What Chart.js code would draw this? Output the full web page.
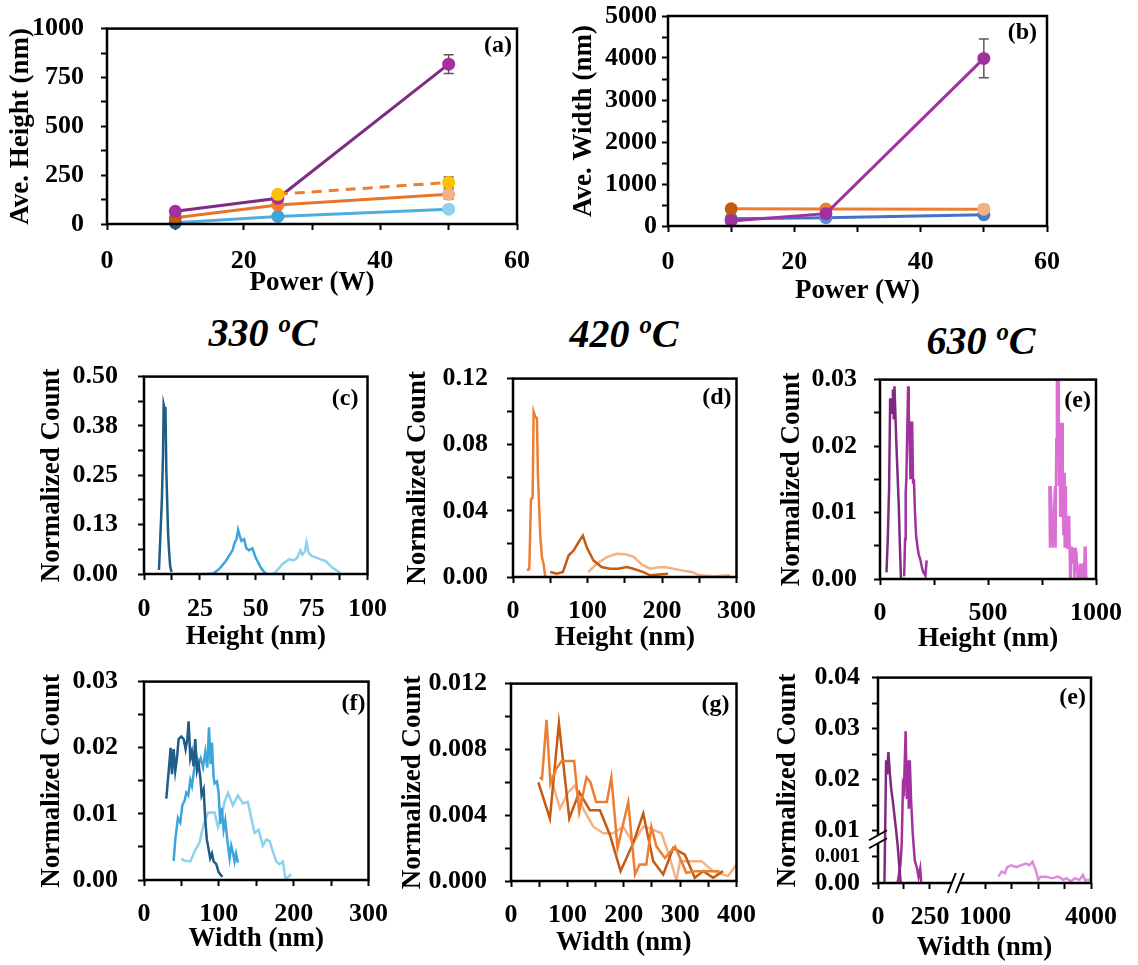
<!DOCTYPE html>
<html>
<head>
<meta charset="utf-8">
<title>Height and width distributions</title>
<script src="https://cdn.jsdelivr.net/npm/chart.js@4.4.1/dist/chart.umd.min.js"></script>
<style>
  body { margin: 0; background: #fff; }
  #fig { position: relative; width: 1138px; height: 965px; overflow: hidden; background: #fff; }
  #fig canvas { position: absolute; }
  .temp {
    position: absolute; transform: translate(-50%, -50%); white-space: nowrap;
    font: italic bold 40px "Liberation Serif", "Times New Roman", serif; color: #000;
  }
  .temp span { position: relative; top: -0.55em; font-size: 0.62em; }
</style>
</head>
<body>
<div id="fig">
  <div class="temp" style="left:263px; top:332px">330 <span>o</span>C</div>
  <div class="temp" style="left:624px; top:333px">420 <span>o</span>C</div>
  <div class="temp" style="left:981px; top:340px">630 <span>o</span>C</div>
</div>
<script>
// averages vs. plasma power
const power = [10, 25, 50];
const powerDash = [25, 50];

const aveHeight330 = [6, 39, 76];
const errHeight330 = [2, 6, 10];
const aveHeight420 = [32, 97, 152];
const errHeight420 = [5, 10, 24];
const aveHeight630 = [65, 132, 818];
const errHeight630 = [6, 12, 48];
const aveHeightDash = [152, 213];
const errHeightDash = [10, 28];

const aveWidth330 = [175, 199, 270];
const errWidth330 = [20, 25, 60];
const aveWidth420 = [410, 405, 400];
const errWidth420 = [30, 40, 100];
const aveWidth630 = [119, 294, 3990];
const errWidth630 = [20, 40, 460];

// height histograms, 330 C
const h330a_x = [6.7, 8.0, 8.5, 8.8, 9.2, 9.6, 10.0, 10.4, 10.8, 11.2, 11.7, 12.3];
const h330a_y = [0.01, 0.19, 0.30, 0.43, 0.42, 0.42, 0.26, 0.18, 0.10, 0.06, 0.02, 0.005];
const h330b_x = [28, 31, 33.7, 36.6, 39.6, 40.6, 41.4, 42.1, 42.9, 43.6, 44.8, 45.8, 47, 48.5, 50, 52.2, 53.7, 55.2];
const h330b_y = [0, 0.001, 0.013, 0.033, 0.06, 0.08, 0.088, 0.112, 0.096, 0.084, 0.088, 0.065, 0.06, 0.065, 0.041, 0.017, 0.005, 0];
const h330c_x = [57.4, 58.9, 61.9, 64.8, 67, 68.5, 70, 70.8, 72, 72.7, 73.7, 75.2, 77.4, 78.9, 81.2, 84.1, 87.8];
const h330c_y = [0, 0.005, 0.025, 0.037, 0.035, 0.041, 0.06, 0.049, 0.057, 0.08, 0.053, 0.045, 0.041, 0.037, 0.033, 0.017, 0.003];

// height histograms, 420 C
const h420a_x = [18.8, 21.9, 24.1, 26.3, 27.7, 29.9, 32.1, 33.5, 36.6, 38.8, 41, 43.3];
const h420a_y = [0.004, 0.005, 0.047, 0.048, 0.1, 0.097, 0.096, 0.061, 0.025, 0.012, 0.008, 0];
const h420b_x = [50, 58.9, 67, 74.6, 81.3, 88, 93.8, 99, 108, 119, 130, 141, 152.7, 161.6, 175, 184, 208];
const h420b_y = [0.003, 0.002, 0.003, 0.013, 0.016, 0.021, 0.025, 0.018, 0.010, 0.006, 0.005, 0.005, 0.006, 0.005, 0.003, 0.001, 0.002];
const h420c_x = [101, 112.5, 125.9, 139, 150.4, 161.6, 172.8, 184, 192.9, 204, 215, 226, 240, 251, 269, 291];
const h420c_y = [0.003, 0.008, 0.012, 0.014, 0.0137, 0.0123, 0.0076, 0.005, 0.0057, 0.006, 0.005, 0.004, 0.003, 0.001, 0.0005, 0.001];

// height histograms, 630 C
const h630a_x = [30, 36, 42, 47, 52, 56, 60, 64, 67, 71, 75, 81, 87, 92, 97, 119];
const h630a_y = [0.001, 0.006, 0.0135, 0.027, 0.027, 0.025, 0.0285, 0.024, 0.029, 0.025, 0.021, 0.016, 0.011, 0.005, 0, 0];
const h630b_x = [112, 116, 119, 122, 126, 130, 133, 137, 141, 145, 149, 153, 157, 162, 167, 173, 179, 186, 194, 200, 204, 210, 216];
const h630b_y = [0.0004, 0.006, 0.013, 0.015, 0.022, 0.029, 0.025, 0.0213, 0.015, 0.0235, 0.0235, 0.0145, 0.015, 0.01, 0.0066, 0.005, 0.0037, 0.003, 0.0018, 0.001, 0.0009, 0.0005, 0.0028];
const h630c_x = [784, 787, 790, 800, 810, 813, 816, 819, 822, 825, 828, 831, 834, 837, 840, 843, 846, 849, 852, 855, 858, 861, 864, 867, 870, 873, 876, 880, 884, 888, 892, 896, 900, 905, 910, 915, 920, 926, 932, 938, 944, 948, 952, 955];
const h630c_y = [0.014, 0.0047, 0.014, 0.0047, 0.014, 0.0047, 0.021, 0.03, 0.0235, 0.03, 0.014, 0.0235, 0.0095, 0.0235, 0.0095, 0.0235, 0.014, 0.0066, 0.016, 0.0047, 0.014, 0.0047, 0.0095, 0.0047, 0.009, 0.0047, 0.0095, 0, 0.0047, 0.0047, 0.0023, 0.0047, 0, 0.0047, 0.0037, 0, 0, 0.0023, 0, 0.0023, 0, 0.0047, 0.0047, 0];

// width histograms, 330 C
const w330a_x = [29.8, 33, 35.6, 37.4, 39.6, 41.8, 44, 46.3, 49.8, 53, 55.6, 57.9, 59.6, 61.9, 64, 66.3, 68.5, 70.8, 73, 75.2, 77, 79.7, 81.9, 84, 86.3, 88.5, 90.8, 93, 96.6, 99.7, 103, 105];
const w330a_y = [0.0123, 0.0165, 0.02, 0.016, 0.0198, 0.0165, 0.0184, 0.0213, 0.0217, 0.0213, 0.0198, 0.0213, 0.024, 0.0184, 0.0194, 0.0172, 0.0213, 0.0165, 0.0175, 0.0156, 0.0128, 0.0137, 0.009, 0.0061, 0.0047, 0.0033, 0.004, 0.0028, 0.0024, 0.0012, 0.0007, 0.0005];
const w330b_x = [39.6, 41.8, 45.4, 48.5, 51.2, 54.3, 56.5, 59.2, 61.9, 64.1, 66.8, 69.9, 73, 75.7, 78.8, 81.9, 84.6, 86.8, 89, 90.8, 93, 94.4, 97.5, 99.7, 101.9, 104, 106.4, 108.6, 111.3, 114.4, 116.6, 118.8, 121, 123, 125.5];
const w330b_y = [0.0029, 0.0061, 0.0094, 0.0087, 0.0113, 0.012, 0.0132, 0.0128, 0.0151, 0.0142, 0.0165, 0.0189, 0.0175, 0.0184, 0.017, 0.0194, 0.017, 0.0231, 0.0175, 0.0208, 0.0156, 0.0146, 0.0149, 0.0132, 0.0085, 0.0109, 0.0076, 0.009, 0.0061, 0.0033, 0.0052, 0.0042, 0.0028, 0.004, 0.0026];
const w330c_x = [49.8, 54.3, 61.9, 67.6, 74.3, 78.8, 85.4, 94.4, 98.8, 103, 107.7, 112.1, 118.8, 125.5, 132, 138.8, 143.3, 147.8, 153, 158.9, 163.3, 167.8, 172.2, 176.7, 181.1, 185.6, 189.1, 192.3, 196.7];
const w330c_y = [0.0032, 0.0029, 0.0028, 0.0043, 0.0057, 0.008, 0.0102, 0.0102, 0.008, 0.0094, 0.0118, 0.0132, 0.0113, 0.0128, 0.0116, 0.0118, 0.0094, 0.0071, 0.0076, 0.0052, 0.0061, 0.0059, 0.0043, 0.0028, 0.0024, 0.0028, 0.0002, 0.0004, 0.0009];

// width histograms, 420 C
const w420a_x = [51, 55, 63, 70, 80, 90, 101, 112, 121, 134, 141, 151, 170, 178, 189, 208, 220, 228, 240, 249, 258, 273, 291, 311, 329, 353, 370];
const w420a_y = [0.0063, 0.0062, 0.0098, 0.0059, 0.0068, 0.0073, 0.0073, 0.0073, 0.0042, 0.0063, 0.006, 0.0048, 0.0048, 0.0063, 0.002, 0.0048, 0.0004, 0.001, 0.001, 0.0033, 0.0021, 0.0014, 0.0021, 0.0005, 0.0006, 0.0006, 0.0006];
const w420b_x = [48.5, 69, 85, 103.4, 121, 140, 157.8, 175.5, 194.4, 216.8, 234.6, 252.3, 270, 287.7, 308.4, 326, 341, 358.6, 376];
const w420b_y = [0.006, 0.0038, 0.0096, 0.0038, 0.0054, 0.0043, 0.0043, 0.0028, 0.0006, 0.0023, 0.0041, 0.0012, 0.0004, 0.002, 0.0016, 0.0002, 0.0006, 0.0002, 0.0006];
const w420c_x = [69, 86.9, 101.6, 113.4, 128, 146, 163.7, 181.4, 199, 216.8, 234.6, 246.4, 267, 281, 293.6, 299.6, 317, 338, 358.6, 385, 400];
const w420c_y = [0.0065, 0.0044, 0.0054, 0.0058, 0.0044, 0.0033, 0.0029, 0.0029, 0.0033, 0.0023, 0.0033, 0.0032, 0.0029, 0.0015, 0, 0.0012, 0.0012, 0.0012, 0.0006, 0.0003, 0.001];

// width histograms, 630 C (broken axes)
const w630a_x = [31, 39, 44, 50, 58, 64, 70, 78, 86, 94, 102, 109];
const w630a_y = [0, 0.0238, 0.021, 0.0254, 0.0207, 0.018, 0.0162, 0.0134, 0.0105, 0.0053, 0.0007, 0];
const w630b_x = [94, 108, 114, 120, 125, 128, 133, 139, 144, 148, 153, 159, 167, 177, 188, 195, 203, 208];
const w630b_y = [0, 0.0007, 0.0053, 0.0188, 0.018, 0.0226, 0.0295, 0.0162, 0.0238, 0.0143, 0.0238, 0.0162, 0.0091, 0.00085, 0.00055, 0.00024, 0.00055, 0];
const w630c_x = [1369, 1462, 1554, 1619, 1739, 1877, 2016, 2154, 2247, 2339, 2431, 2505, 2570, 2708, 2893, 3078, 3216, 3308, 3428, 3540, 3678, 3770, 3835, 3955];
const w630c_y = [0.00024, 0.00043, 0.00037, 0.0006, 0.00067, 0.0006, 0.00067, 0.00073, 0.00067, 0.0008, 0.00049, 0.00012, 0.00024, 0.00024, 0.00018, 0.00024, 0.00012, 0.00018, 0.00006, 0.00018, 0.00012, 0.0003, 0.0001, 0.00012];

// tick positions of the broken axes
const brokenXTicks = [0, 125, 250, 1000, 1750, 2500, 3250, 4000];
const brokenXLabels = { 0: '0', 250: '250', 1000: '1000', 4000: '4000' };
const brokenYTicks = [0, 0.001, 0.01, 0.015, 0.02, 0.025, 0.03, 0.035, 0.04];
const brokenYLabels = { 0: '0.00', 0.001: '0.001', 0.01: '0.01', 0.02: '0.02', 0.03: '0.03', 0.04: '0.04' };

const BLUE = ['#1E5D87', '#3DA5DC', '#8DD0F0'];
const ORANGE = ['#C55A11', '#ED7D31', '#F4B183'];
const PURPLE = ['#7D2A80', '#A2309F', '#DA70D4'];

const SERIF = '"Liberation Serif", "Times New Roman", serif';
Chart.defaults.font.family = SERIF;
Chart.defaults.font.weight = 'bold';
Chart.defaults.color = '#000';
Chart.defaults.animation = false;
Chart.defaults.plugins.legend.display = false;
Chart.defaults.plugins.tooltip.enabled = false;

// linear scale squeezed piecewise between knots (for the axis breaks)
class BrokenScale extends Chart.LinearScale {
  buildTicks() {
    return this.options.tickValues.map(v => ({ value: v }));
  }
  toDecimal(v) {
    const kv = this.options.knotValues, kf = this.options.knotFractions;
    let i = 1;
    while (i < kv.length - 1 && v > kv[i]) i++;
    return kf[i - 1] + (v - kv[i - 1]) / (kv[i] - kv[i - 1]) * (kf[i] - kf[i - 1]);
  }
  getPixelForValue(v) {
    return v === null ? NaN : this.getPixelForDecimal(this.toDecimal(v));
  }
  getValueForPixel(p) {
    const d = this.getDecimalForPixel(p);
    const kv = this.options.knotValues, kf = this.options.knotFractions;
    let i = 1;
    while (i < kf.length - 1 && d > kf[i]) i++;
    return kv[i - 1] + (d - kf[i - 1]) / (kf[i] - kf[i - 1]) * (kv[i] - kv[i - 1]);
  }
}
BrokenScale.id = 'broken';

// box around the plot area
const framePlugin = {
  id: 'frame',
  afterDatasetsDraw(chart) {
    const { ctx, chartArea: a } = chart;
    ctx.save();
    ctx.strokeStyle = '#000';
    ctx.lineWidth = 2.5;
    ctx.strokeRect(a.left, a.top, a.right - a.left, a.bottom - a.top);
    ctx.restore();
  }
};

// (a), (b) ... in the top right corner
const tagPlugin = {
  id: 'tag',
  afterDraw(chart, args, o) {
    if (!o.text) return;
    const { ctx, chartArea: a } = chart;
    ctx.save();
    ctx.font = 'bold 24px ' + SERIF;
    ctx.textAlign = 'right';
    ctx.textBaseline = 'middle';
    ctx.fillStyle = '#000';
    ctx.fillText(o.text, a.right - o.dx, a.top + o.dy);
    ctx.restore();
  }
};

const errorBarPlugin = {
  id: 'errorBars',
  beforeDatasetsDraw(chart) {
    const { ctx, scales: { x, y } } = chart;
    ctx.save();
    ctx.strokeStyle = '#595959';
    ctx.lineWidth = 1.5;
    chart.data.datasets.forEach(ds => {
      if (!ds.errorBars) return;
      ds.data.forEach((p, i) => {
        const e = ds.errorBars[i];
        const px = x.getPixelForValue(p.x);
        const y0 = y.getPixelForValue(p.y - e), y1 = y.getPixelForValue(p.y + e);
        ctx.beginPath();
        ctx.moveTo(px, y0); ctx.lineTo(px, y1);
        ctx.moveTo(px - 5, y0); ctx.lineTo(px + 5, y0);
        ctx.moveTo(px - 5, y1); ctx.lineTo(px + 5, y1);
        ctx.stroke();
      });
    });
    ctx.restore();
  }
};

// "//" marks where an axis is cut
const breakPlugin = {
  id: 'axisBreaks',
  afterDraw(chart, args, o) {
    if (o.x === undefined) return;
    const { ctx, chartArea: a, scales } = chart;
    const bx = scales.x.getPixelForValue(o.x), by = scales.y.getPixelForValue(o.y);
    ctx.save();
    ctx.fillStyle = '#fff';
    ctx.fillRect(bx - 4, a.bottom - 3, 8, 6);
    ctx.fillRect(a.left - 3, by - 4, 6, 8);
    ctx.strokeStyle = '#000';
    ctx.lineWidth = 2;
    ctx.beginPath();
    for (const d of [-4, 4]) {
      ctx.moveTo(bx + d - 4, a.bottom + 10); ctx.lineTo(bx + d + 4, a.bottom - 10);
      ctx.moveTo(a.left - 9, by + d + 5); ctx.lineTo(a.left + 9, by + d - 5);
    }
    ctx.stroke();
    ctx.restore();
  }
};

Chart.register(BrokenScale, framePlugin, tagPlugin, errorBarPlugin, breakPlugin);

const pts = (xs, ys) => xs.map((v, i) => ({ x: v, y: ys[i] }));

const trace = (xs, ys, color) => ({
  data: pts(xs, ys), borderColor: color, borderWidth: 2.5, pointRadius: 0, tension: 0
});

const markers = (xs, ys, line, fill, err) => ({
  data: pts(xs, ys), borderColor: line, borderWidth: 3, tension: 0,
  pointRadius: 6.5, pointBorderWidth: 0, pointBackgroundColor: fill, pointBorderColor: fill,
  errorBars: err, clip: false
});

function linAxis(a) {
  return {
    type: 'linear', min: a.min, max: a.max,
    border: { display: false },
    grid: { drawOnChartArea: false, tickLength: 6, tickWidth: 2, tickColor: '#000' },
    ticks: {
      stepSize: a.step, autoSkip: false, maxRotation: 0, padding: a.pad, font: { size: 26 },
      callback: (v, i) => i % 2 ? '' : v.toFixed(a.dp)
    },
    title: { display: true, text: a.title, font: { size: 27 }, padding: 0 }
  };
}

// area = plot rectangle [left, top, right, bottom] on the page
function panel(area, yTitleX, xTitleY, xAxis, yAxis, datasets, plugins) {
  const [l, t, r, b] = area;
  const left = Math.round(yTitleX - 16), bottom = Math.round(xTitleY + 16);
  const top = t - 22, right = Math.min(r + 32, 1138);
  const cv = document.createElement('canvas');
  cv.width = right - left;
  cv.height = bottom - top;
  cv.style.left = left + 'px';
  cv.style.top = top + 'px';
  document.getElementById('fig').appendChild(cv);
  xAxis.afterFit = s => { s.height = bottom - b; };
  yAxis.afterFit = s => { s.width = l - left; };
  return new Chart(cv, {
    type: 'line',
    data: { datasets },
    options: {
      responsive: false,
      layout: { padding: { left: 0, top: t - top, right: right - r, bottom: 0 } },
      scales: { x: xAxis, y: yAxis },
      plugins
    }
  });
}

// (a) average height
panel([107, 18, 517, 224], 21, 283,
  linAxis({ min: 0, max: 60, step: 10, dp: 0, pad: 16, title: 'Power (W)' }),
  linAxis({ min: 0, max: 1000, step: 125, dp: 0, pad: 17, title: 'Ave. Height (nm)' }),
  [
    Object.assign(markers(powerDash, aveHeightDash, '#ED7D31', '#FFC000', errHeightDash), { borderDash: [10, 7] }),
    markers(power, aveHeight630, '#7E2C82', PURPLE[1], errHeight630),
    markers(power, aveHeight420, '#E8732A', ORANGE, errHeight420),
    markers(power, aveHeight330, '#4FAEE0', BLUE, errHeight330)
  ],
  { tag: { text: '(a)', dx: 5, dy: 17 } });

// (b) average width
panel([668, 16, 1047, 226], 584, 291,
  linAxis({ min: 0, max: 60, step: 10, dp: 0, pad: 15, title: 'Power (W)' }),
  linAxis({ min: 0, max: 5000, step: 500, dp: 0, pad: 5, title: 'Ave. Width (nm)' }),
  [
    markers(power, aveWidth630, '#A2309F', PURPLE[1], errWidth630),
    markers(power, aveWidth420, '#ED7D31', ORANGE, errWidth420),
    markers(power, aveWidth330, '#4472C4', ['#4472C4', '#5B8FD6', '#4A7CC8'], errWidth330)
  ],
  { tag: { text: '(b)', dx: 10, dy: 17 } });

// (c) height, 330 C
panel([144, 363, 369, 574], 52, 637,
  linAxis({ min: 0, max: 100, step: 12.5, dp: 0, pad: 14, title: 'Height (nm)' }),
  linAxis({ min: 0, max: 0.5, step: 0.0625, dp: 2, pad: 20, title: 'Normalized Count' }),
  [trace(h330a_x, h330a_y, BLUE[0]), trace(h330b_x, h330b_y, BLUE[1]), trace(h330c_x, h330c_y, BLUE[2])],
  { tag: { text: '(c)', dx: 9, dy: 22 } });

// (d) height, 420 C
panel([513, 366, 737, 577], 418, 638,
  linAxis({ min: 0, max: 300, step: 50, dp: 0, pad: 13, title: 'Height (nm)' }),
  linAxis({ min: 0, max: 0.12, step: 0.02, dp: 2, pad: 19, title: 'Normalized Count' }),
  [trace(h420a_x, h420a_y, ORANGE[1]), trace(h420b_x, h420b_y, ORANGE[0]), trace(h420c_x, h420c_y, ORANGE[2])],
  { tag: { text: '(d)', dx: 5, dy: 19 } });

// (e) height, 630 C
panel([880, 369, 1103, 579], 792, 639,
  linAxis({ min: 0, max: 1000, step: 250, dp: 0, pad: 13, title: 'Height (nm)' }),
  linAxis({ min: 0, max: 0.03, step: 0.005, dp: 2, pad: 17, title: 'Normalized Count' }),
  [trace(h630a_x, h630a_y, PURPLE[0]), trace(h630b_x, h630b_y, PURPLE[1]), trace(h630c_x, h630c_y, PURPLE[2])],
  { tag: { text: '(e)', dx: 5, dy: 21 } });

// (f) width, 330 C
panel([144, 668, 369, 880], 52, 939,
  linAxis({ min: 0, max: 300, step: 50, dp: 0, pad: 13, title: 'Width (nm)' }),
  linAxis({ min: 0, max: 0.03, step: 0.005, dp: 2, pad: 20, title: 'Normalized Count' }),
  [trace(w330a_x, w330a_y, BLUE[0]), trace(w330b_x, w330b_y, BLUE[1]), trace(w330c_x, w330c_y, BLUE[2])],
  { tag: { text: '(f)', dx: 3, dy: 22 } });

// (g) width, 420 C
panel([511, 672, 737, 881], 413, 943,
  linAxis({ min: 0, max: 400, step: 50, dp: 0, pad: 13, title: 'Width (nm)' }),
  linAxis({ min: 0, max: 0.012, step: 0.002, dp: 3, pad: 18, title: 'Normalized Count' }),
  [trace(w420a_x, w420a_y, ORANGE[1]), trace(w420b_x, w420b_y, ORANGE[0]), trace(w420c_x, w420c_y, ORANGE[2])],
  { tag: { text: '(g)', dx: 7, dy: 21 } });

// width, 630 C, both axes broken
const bx = linAxis({ min: 0, max: 4000, pad: 13, title: 'Width (nm)' });
Object.assign(bx, { type: 'broken', tickValues: brokenXTicks, knotValues: [0, 250, 1000, 4000], knotFractions: [0, 0.244, 0.504, 1] });
bx.ticks.callback = v => brokenXLabels[v] || '';
const by = linAxis({ min: 0, max: 0.04, pad: 12, title: 'Normalized Count' });
Object.assign(by, { type: 'broken', tickValues: brokenYTicks, knotValues: [0, 0.001, 0.01, 0.04], knotFractions: [0, 0.129, 0.255, 1] });
by.ticks.callback = v => brokenYLabels[v] || '';
by.ticks.font = c => ({ size: c.tick && c.tick.value === 0.001 ? 20 : 26 });
panel([878, 672, 1098, 883], 788, 948, bx, by,
  [trace(w630a_x, w630a_y, PURPLE[0]), trace(w630b_x, w630b_y, PURPLE[1]), trace(w630c_x, w630c_y, '#E08ADC')],
  { tag: { text: '(e)', dx: 5, dy: 20 }, axisBreaks: { x: 600, y: 0.007 } });
</script>
</body>
</html>
